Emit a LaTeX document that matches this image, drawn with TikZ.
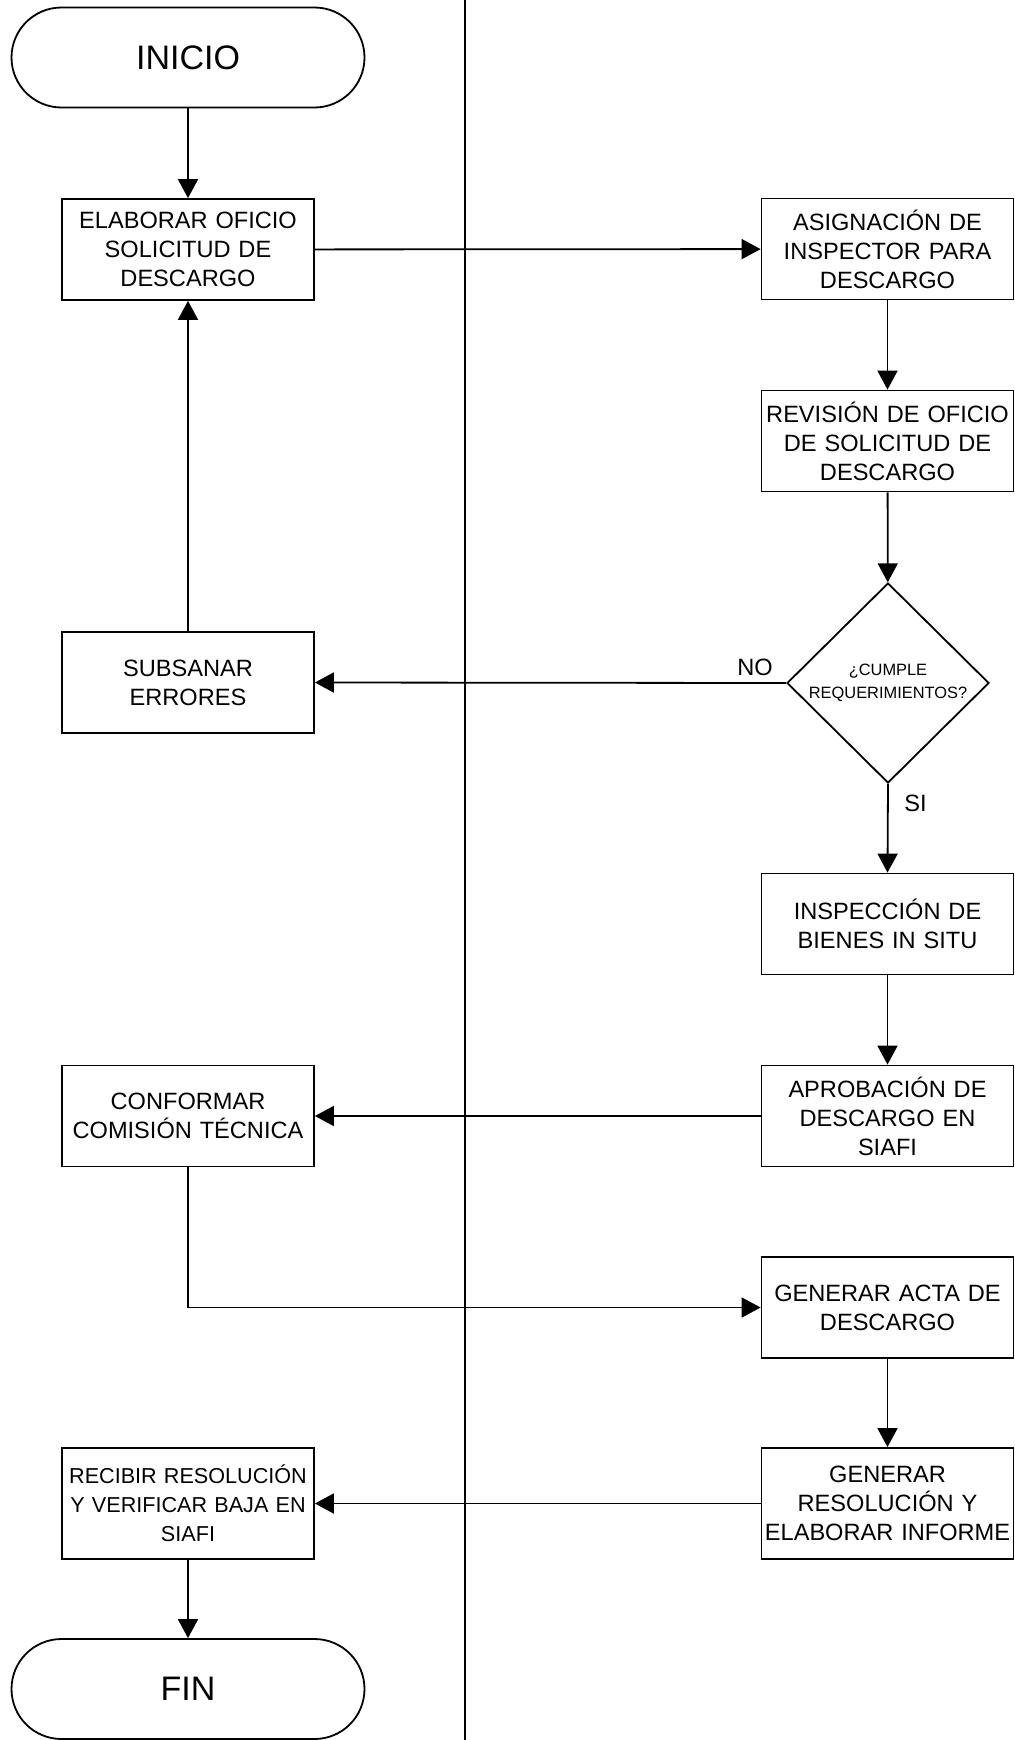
\documentclass[tikz,border=0pt]{standalone}
\usepackage{fontspec}
\setmainfont{Liberation Sans}
\usetikzlibrary{shapes.geometric, arrows.meta, positioning}
\tikzset{
>={Triangle[length=9.5pt, width=10pt]}, % filled arrow heads like the original chart
every node/.style={font=\fontsize{11.8}{14.5}\selectfont, align=center}, % text of all boxes
}

\begin{document}
\begin{tikzpicture}[x=0.5pt, y=-0.5pt, line width=0.9pt,
    proc/.style = {draw, rectangle, text width=124pt, minimum height=50.5pt, inner xsep=1pt},
    term/.style = {draw, rectangle, rounded corners=25pt, minimum width=176.5pt, minimum height=50pt, font=\fontsize{17}{20}\selectfont},
    decision/.style = {draw, diamond, minimum width=101pt, minimum height=100pt, inner sep=0pt}]
    \useasboundingbox (0,0) rectangle (1014,1740);
    % lane divider
    \coordinate (top) at (465,0);
    \coordinate (bottom) at (465,1740);
    \draw [line width=0.6pt] (top) -- (bottom);

    % left lane
    \node[term] (ini) at (188,57.5) {INICIO};
    \node[proc] (elab) at (188,249.5) {ELABORAR OFICIO\\SOLICITUD DE\\DESCARGO};
    \node[proc] (sub) at (188,682.5) {SUBSANAR\\ERRORES};
    \node[proc] (conf) at (188,1116) {CONFORMAR\\COMISIÓN TÉCNICA};
    \node[proc, minimum height=55.5pt, font=\fontsize{10.8}{14.5}\selectfont] (rec) at (188,1503.5) {RECIBIR RESOLUCIÓN\\Y VERIFICAR BAJA EN\\SIAFI};
    \node[term] (fin) at (188,1689) {FIN};

    % right lane
    \node[proc] (asig) at (887.5,249) {ASIGNACIÓN DE\\INSPECTOR PARA\\DESCARGO};
    \node[proc] (rev) at (887.5,441) {REVISIÓN DE OFICIO\\DE SOLICITUD DE\\DESCARGO};
    \node[decision, label={[font=\fontsize{8.2}{11.5}\selectfont]center:{¿CUMPLE\\REQUERIMIENTOS?}}] (q) at (888,683) {};
    \node[proc] (insp) at (887.5,924) {INSPECCIÓN DE\\BIENES IN SITU};
    \node[proc] (apr) at (887.5,1116) {APROBACIÓN DE\\DESCARGO EN\\SIAFI};
    \node[proc] (acta) at (887.5,1307.5) {GENERAR ACTA DE\\DESCARGO};
    \node[proc, minimum height=55.5pt] (res) at (887.5,1503.5) {GENERAR\\RESOLUCIÓN Y\\ELABORAR INFORME};

    \draw [->] (ini) -- (elab);
    \draw [->] (elab) -- (asig);
    \draw [->] (asig) -- (rev);
    \draw [->] (rev) -- (q);
    \draw [->] (q.west) -- node[pos=0.066, above] {NO} (sub.east);
    \draw [->] (q.south) -- node[pos=0.22, right, xshift=4.5pt] {SI} (insp.north);
    \draw [->] (sub) -- (elab);
    \draw [->] (insp) -- (apr);
    \draw [->] (apr) -- (conf);
    \draw [->] (conf.south) |- (acta.west);
    \draw [->] (acta) -- (res);
    \draw [->] (res) -- (rec);
    \draw [->] (rec) -- (fin);
\end{tikzpicture}
\end{document}
